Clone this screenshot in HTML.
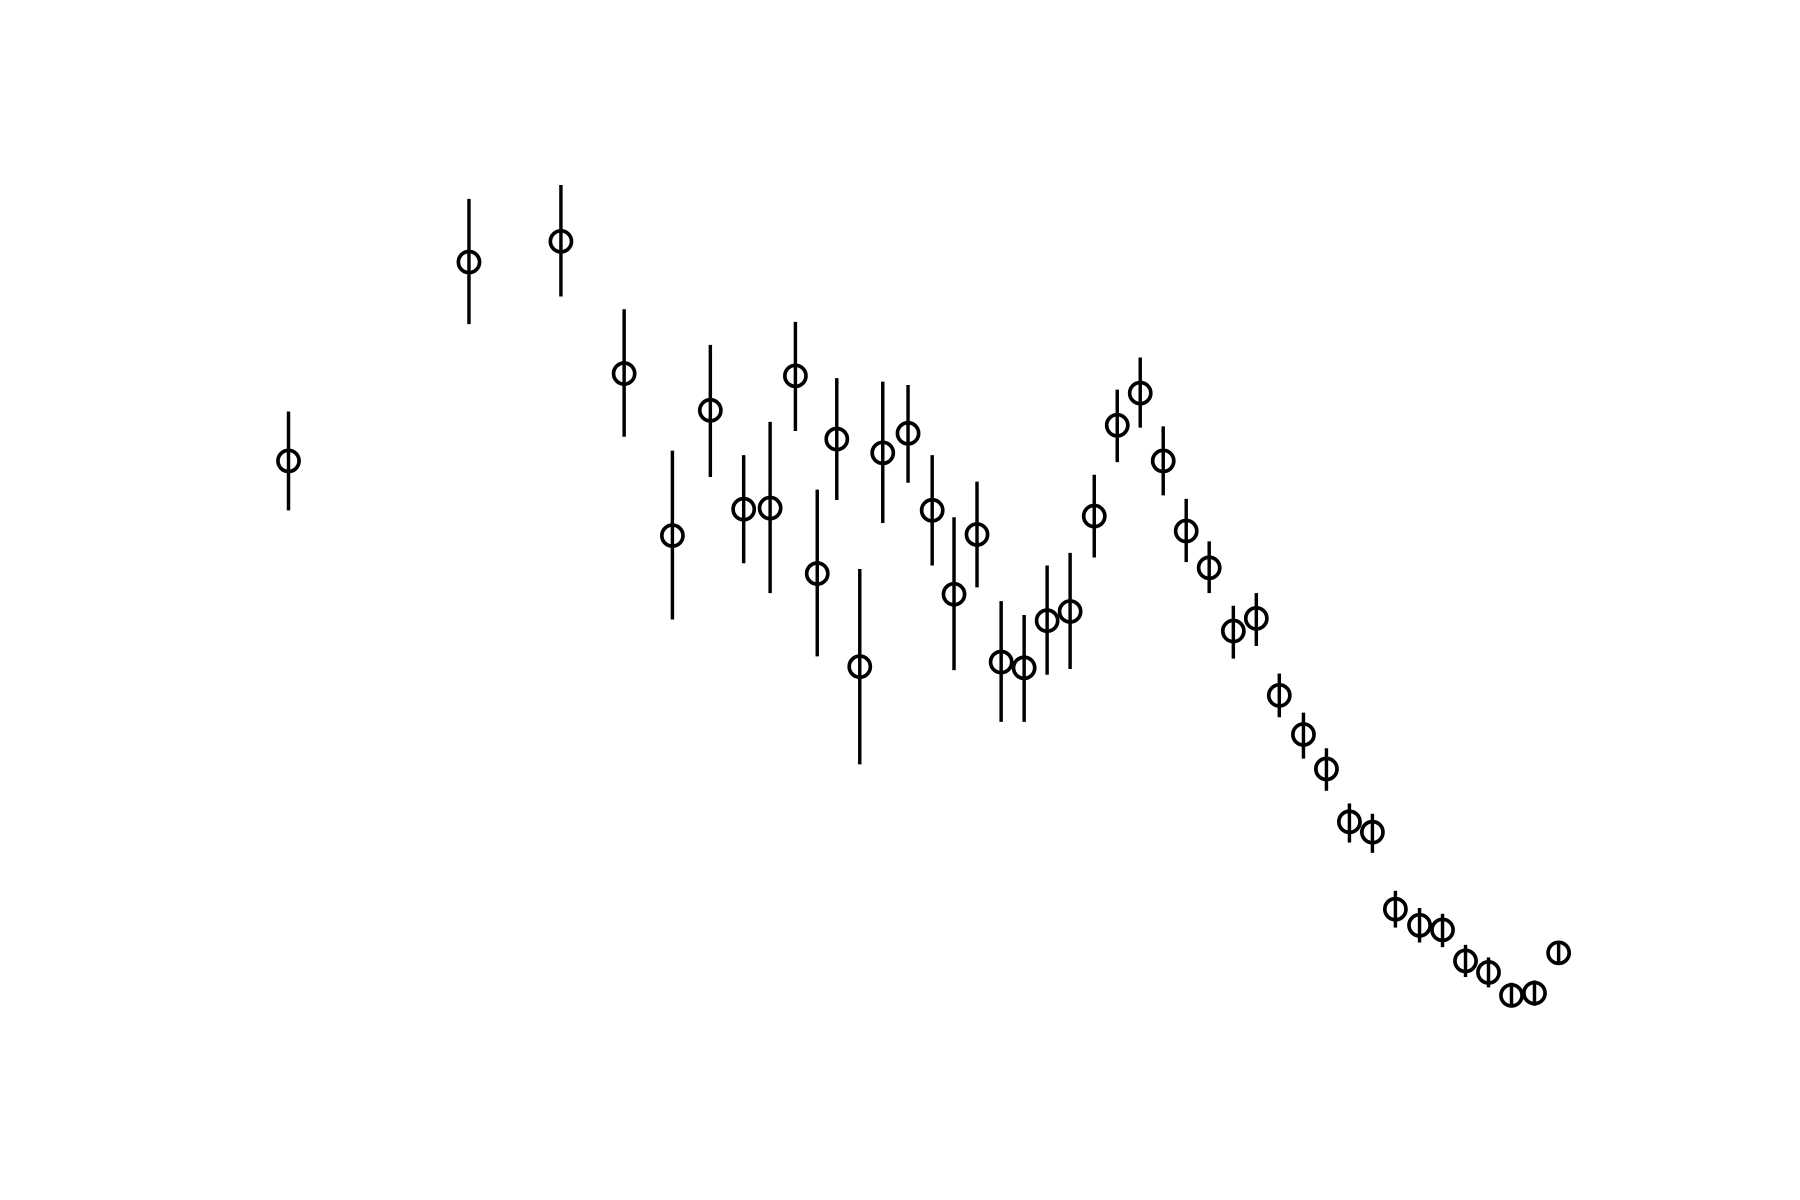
<!DOCTYPE html>
<html><head><meta charset="utf-8"><style>html,body{margin:0;padding:0;background:#fff}svg{display:block}</style></head>
<body>
<svg id="chart" width="1800" height="1200" viewBox="0 0 1566 1044" xmlns="http://www.w3.org/2000/svg">
<rect width="1566" height="1044" fill="#fff"/>
<g id="marks"></g>
</svg>
<script>
const xVals=[25.1,40.8,48.8,54.3,58.5,61.8,64.7,67.0,69.2,71.1,72.8,74.8,76.8,79.0,81.1,83.0,85.0,87.1,89.1,91.1,93.1,95.2,97.2,99.2,101.2,103.2,105.2,107.3,109.3,111.3,113.4,115.4,117.4,119.4,121.4,123.5,125.5,127.5,129.5,131.5,133.5,135.6];
const yVals=[63.1,80.4,82.2,70.7,56.6,67.5,58.9,59.0,70.5,53.3,65.0,45.2,63.8,65.5,58.8,51.5,56.7,45.6,45.1,49.2,50.0,58.3,66.2,69.0,63.1,57.0,53.8,48.3,49.4,42.7,39.3,36.3,31.7,30.8,24.1,22.7,22.3,19.6,18.6,16.6,16.8,20.3];
const yHigh=[67.4,85.9,87.1,76.3,64.0,73.2,63.6,66.5,75.2,60.6,70.3,53.7,70.0,69.7,63.6,58.2,61.3,50.9,49.7,54.0,55.1,61.9,69.3,72.1,66.1,59.8,56.1,50.5,51.6,44.6,41.2,38.1,33.3,32.4,25.7,24.2,23.7,21.0,19.9,17.7,17.9,21.3];
const yLow=[58.8,75.0,77.4,65.2,49.3,61.7,54.2,51.6,65.7,46.1,59.7,36.7,57.7,61.2,54.0,44.9,52.1,40.4,40.4,44.5,45.0,54.7,63.0,66.0,60.1,54.3,51.6,45.9,47.0,40.8,37.2,34.4,29.9,29.0,22.5,21.2,20.8,18.2,17.3,15.6,15.7,19.3];
const xScale=v=>v*10;
const yScale=v=>1032-v*10;
const NS="http://www.w3.org/2000/svg";
const g=document.getElementById('marks');
for(let i=0;i<xVals.length;i++){
  const x=xScale(xVals[i]);
  const l=document.createElementNS(NS,'line');
  l.setAttribute('x1',x);l.setAttribute('x2',x);
  l.setAttribute('y1',yScale(yHigh[i]));l.setAttribute('y2',yScale(yLow[i]));
  l.setAttribute('stroke','#000');l.setAttribute('stroke-width','3');
  
  
  g.appendChild(l);
  const c=document.createElementNS(NS,'circle');
  c.setAttribute('cx',x);c.setAttribute('cy',yScale(yVals[i]));c.setAttribute('r','9.2');
  c.setAttribute('fill','none');c.setAttribute('stroke','#000');c.setAttribute('stroke-width','3.2');
  
  
  g.appendChild(c);
}
</script>
</body></html>
